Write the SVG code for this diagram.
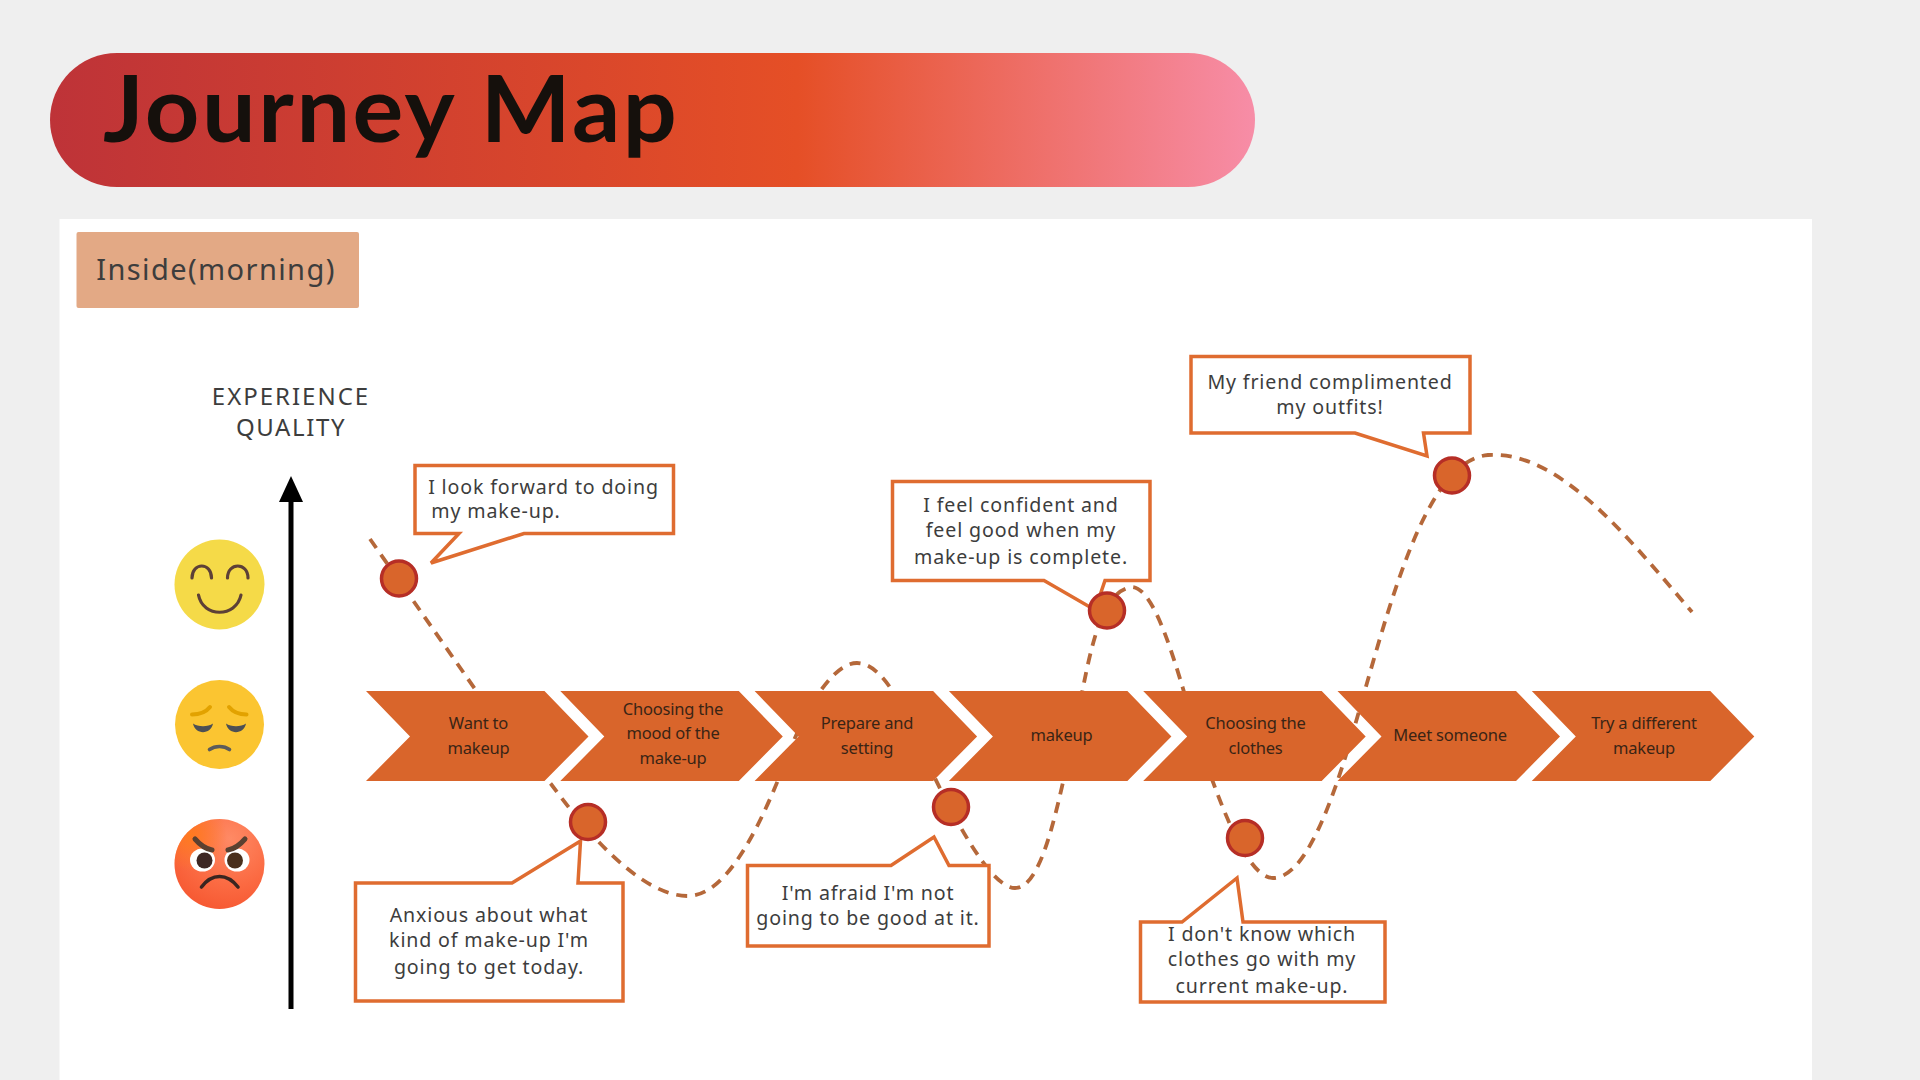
<svg xmlns="http://www.w3.org/2000/svg" width="1920" height="1080" viewBox="0 0 1920 1080">
<style>
.t{font-family:"Noto Sans","Liberation Sans",sans-serif;fill:#3d3d3d;text-anchor:middle}
.c{font-size:19.600px;letter-spacing:.85px}
.s{font-size:16.500px;fill:#3a2415;letter-spacing:-.2px}
.box{fill:#fff;stroke:#DF6C30;stroke-width:3.500;stroke-linejoin:miter}
.dot{fill:#D9652B;stroke:#B62E26;stroke-width:3.500}
.chev{fill:#D9652B}
</style>
<defs>
<linearGradient id="pill" x1="0" x2="1" y1="0" y2="0">
<stop offset="0" stop-color="#BE3338"/><stop offset=".62" stop-color="#E54F26"/><stop offset="1" stop-color="#F78DA7"/>
</linearGradient>
<radialGradient id="angry" cx=".62" cy=".22" r=".95">
<stop offset="0" stop-color="#FF8A65"/><stop offset=".55" stop-color="#FB6A42"/><stop offset="1" stop-color="#F4502A"/>
</radialGradient>
<radialGradient id="angry2" cx=".18" cy=".18" r=".4">
<stop offset="0" stop-color="#FF7A1F"/><stop offset="1" stop-color="#FF7A1F" stop-opacity="0"/>
</radialGradient>
</defs>
<rect width="1920" height="1080" fill="#EFEFEF"/>
<rect x="59.500" y="219" width="1752.500" height="861" fill="#fff"/>
<g id="title">
<rect x="50" y="53" width="1205" height="134" rx="67" fill="url(#pill)"/>
<text transform="translate(103 142) scale(1.034 1)" font-family="Lato,'Liberation Sans',sans-serif" font-size="92" font-weight="700" letter-spacing="2.500" fill="#15100C">Journey Map</text>
</g>
<g id="tag">
<rect x="76.500" y="232" width="282.500" height="76" rx="2" fill="#E3A985"/>
<text class="t" x="216" y="279.500" font-size="29" letter-spacing="1.400">Inside(morning)</text>
</g>
<g id="axis">
<text class="t" x="291" y="405" font-size="24" letter-spacing="2">EXPERIENCE</text>
<text class="t" x="291" y="436" font-size="24" letter-spacing="1.600">QUALITY</text>
<path d="M291 502V1009" stroke="#000" stroke-width="5"/>
<path d="M291 476L303 502H279Z" fill="#000"/>
</g>
<g id="connectors">
<path fill="none" stroke="#B5683A" stroke-width="3.800" stroke-dasharray="11 8" d="M370 539L475 689C505 732 530 760 551 784C585 830 640 896 688 896C730 896 765 815 790 750C810 700 835 663 857 663C880 663 900 700 915 735C935 780 985 888 1015 888C1045 888 1060 790 1075 730C1090 650 1100 590 1133 587C1155 590 1175 660 1195 730C1215 790 1245 878 1273 878C1310 878 1340 780 1365 690C1395 585 1430 460 1488 455C1560 450 1630 540 1692 612"/>
</g>
<g id="stage-1"><path class="chev" d="M366 691H544.500L588.500 736.500L544.500 781H366L410 736.500Z"/>
<text class="t s" x="478.500" y="729">Want to</text><text class="t s" x="478.500" y="753.500">makeup</text></g>
<g id="stage-2"><path class="chev" d="M560.300 691H738.800L782.800 736.500L738.800 781H560.300L604.300 736.500Z"/>
<text class="t s" x="673" y="715">Choosing the</text><text class="t s" x="673" y="739">mood of the</text><text class="t s" x="673" y="763.500">make-up</text></g>
<g id="stage-3"><path class="chev" d="M754.600 691H933.100L977.100 736.500L933.100 781H754.600L798.600 736.500Z"/>
<text class="t s" x="867" y="729">Prepare and</text><text class="t s" x="867" y="753.500">setting</text></g>
<g id="stage-4"><path class="chev" d="M948.900 691H1127.400L1171.400 736.500L1127.400 781H948.900L992.900 736.500Z"/>
<text class="t s" x="1061.500" y="741">makeup</text></g>
<g id="stage-5"><path class="chev" d="M1143.200 691H1321.700L1365.700 736.500L1321.700 781H1143.200L1187.200 736.500Z"/>
<text class="t s" x="1255.500" y="729">Choosing the</text><text class="t s" x="1255.500" y="753.500">clothes</text></g>
<g id="stage-6"><path class="chev" d="M1337.500 691H1516L1560 736.500L1516 781H1337.500L1381.500 736.500Z"/>
<text class="t s" x="1450" y="741">Meet someone</text></g>
<g id="stage-7"><path class="chev" d="M1531.800 691H1710.300L1754.300 736.500L1710.300 781H1531.800L1575.800 736.500Z"/>
<text class="t s" x="1644" y="729">Try a different</text><text class="t s" x="1644" y="753.500">makeup</text></g>
<g id="note-1"><path class="box" d="M415 465.500H673.500V533.500H524L431 563L459 533.500H415Z"/>
<text class="t c" x="543.500" y="493.500">I look forward to doing</text><text class="t c" x="496" y="518">my make-up.</text></g>
<g id="note-2"><path class="box" d="M892.500 481.500H1150V580.500H1105L1095 610L1044 580.500H892.500Z"/>
<text class="t c" x="1021" y="512">I feel confident and</text><text class="t c" x="1021" y="536.500">feel good when my</text><text class="t c" x="1021" y="564">make-up is complete.</text></g>
<g id="note-3"><path class="box" d="M1191 356.500H1470V433H1423.500L1427 456L1355 433H1191Z"/>
<text class="t c" x="1330" y="389">My friend complimented</text><text class="t c" x="1330" y="413.500">my outfits!</text></g>
<g id="note-4"><path class="box" d="M355.500 883H512L580.500 841L578 883H623V1001H355.500Z"/>
<text class="t c" x="489" y="922">Anxious about what</text><text class="t c" x="489" y="947">kind of make-up I'm</text><text class="t c" x="489" y="974">going to get today.</text></g>
<g id="note-5"><path class="box" d="M747.500 865.500H891L934 837L949 865.500H989V946H747.500Z"/>
<text class="t c" x="868" y="900">I'm afraid I'm not</text><text class="t c" x="868" y="925">going to be good at it.</text></g>
<g id="note-6"><path class="box" d="M1140.500 922H1182L1237 878L1243 922H1385V1002H1140.500Z"/>
<text class="t c" x="1262" y="941">I don't know which</text><text class="t c" x="1262" y="966">clothes go with my</text><text class="t c" x="1262" y="993">current make-up.</text></g>
<g id="point-1"><circle class="dot" cx="399" cy="578.500" r="17.500"/></g>
<g id="point-2"><circle class="dot" cx="588" cy="822" r="17.500"/></g>
<g id="point-3"><circle class="dot" cx="951" cy="807" r="17.500"/></g>
<g id="point-4"><circle class="dot" cx="1107" cy="610.500" r="17.500"/></g>
<g id="point-5"><circle class="dot" cx="1245" cy="838" r="17.500"/></g>
<g id="point-6"><circle class="dot" cx="1452" cy="475.500" r="17.500"/></g>
<g id="face-happy">
<circle cx="219.500" cy="584.500" r="45" fill="#F5DA48"/>
<path d="M192 578C192 562 211.500 562 211.500 578M227.500 578C227.500 562 248 562 248 578M198.500 595C203 618 236 618 241 595" fill="none" stroke="#5D4037" stroke-width="3.200" stroke-linecap="round"/>
</g>
<g id="face-pensive">
<circle cx="219.500" cy="724.500" r="44.500" fill="#FBC531"/>
<path d="M192 714.500C200 714.500 206 712 210 707M229 707C233 712 239 714.500 246.500 714.500" fill="none" stroke="#E2A200" stroke-width="4" stroke-linecap="round"/>
<path d="M193 723.500C198 727 208 727 213 723.500C211 735 195 735 193 723.500ZM226 723.500C231 727 241 727 246 723.500C244 735 228 735 226 723.500Z" fill="#4D5054"/>
<path d="M209.500 749.500C215 745.500 224 745.500 229.500 749.500" fill="none" stroke="#5B5B5B" stroke-width="3.600" stroke-linecap="round"/>
</g>
<g id="face-angry">
<circle cx="219.500" cy="864" r="45" fill="url(#angry)"/>
<circle cx="219.500" cy="864" r="45" fill="url(#angry2)"/>
<ellipse cx="202.500" cy="860" rx="12.500" ry="11.500" fill="#fff"/><ellipse cx="237" cy="860" rx="12.500" ry="11.500" fill="#fff"/>
<circle cx="204.500" cy="860.500" r="8" fill="#3E2723"/><circle cx="235" cy="860.500" r="8" fill="#4A2F1C"/>
<path d="M195 839C201 846 206 849 212 850M245 839C239 846 234 849 228 850" fill="none" stroke="#5A4030" stroke-width="5" stroke-linecap="round"/>
<path d="M201.500 887C212 873 227 873 238 887" fill="none" stroke="#3A2520" stroke-width="3.600" stroke-linecap="round"/>
</g>
</svg>
